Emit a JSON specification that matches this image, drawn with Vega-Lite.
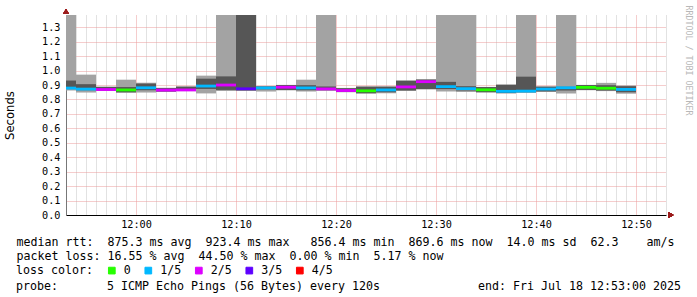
{
  "$schema": "https://vega.github.io/schema/vega-lite/v6.json",
  "width": 600,
  "height": 200,
  "autosize": {"type": "none"},
  "padding": {"left": 66, "top": 15, "right": 31, "bottom": 82},
  "background": "#ffffff",
  "config": {"view": {"stroke": null}},
  "title": {
    "text": "probe:\u00a0\u00a0\u00a0\u00a0\u00a0\u00a0\u00a05\u00a0ICMP\u00a0Echo\u00a0Pings\u00a0(56\u00a0Bytes)\u00a0every\u00a0120s\u00a0\u00a0\u00a0\u00a0\u00a0\u00a0\u00a0\u00a0\u00a0\u00a0\u00a0\u00a0\u00a0\u00a0end:\u00a0Fri\u00a0Jul\u00a018\u00a012:53:00\u00a02025",
    "orient": "bottom",
    "anchor": "start",
    "frame": "group",
    "dx": -50,
    "offset": 4,
    "font": "DejaVu Sans Mono",
    "fontSize": 11.63,
    "fontWeight": "normal",
    "color": "#000000"
  },
  "resolve": {"axis": {"y": "independent"}},
  "data": {
    "values": [
      {"t0": "2025-07-18T11:52:00", "t1": "2025-07-18T11:54:00", "lo": 0.862, "lo2": 0.872, "hi2": 0.931, "hi": 1.5, "med": 0.879, "loss": "1/5"},
      {"t0": "2025-07-18T11:54:00", "t1": "2025-07-18T11:56:00", "lo": 0.848, "lo2": 0.864, "hi2": 0.906, "hi": 0.972, "med": 0.872, "loss": "1/5"},
      {"t0": "2025-07-18T11:56:00", "t1": "2025-07-18T11:58:00", "lo": 0.860, "lo2": 0.862, "hi2": 0.887, "hi": 0.889, "med": 0.869, "loss": "2/5"},
      {"t0": "2025-07-18T11:58:00", "t1": "2025-07-18T12:00:00", "lo": 0.846, "lo2": 0.850, "hi2": 0.886, "hi": 0.937, "med": 0.866, "loss": "0"},
      {"t0": "2025-07-18T12:00:00", "t1": "2025-07-18T12:02:00", "lo": 0.848, "lo2": 0.864, "hi2": 0.910, "hi": 0.916, "med": 0.881, "loss": "1/5"},
      {"t0": "2025-07-18T12:02:00", "t1": "2025-07-18T12:04:00", "lo": 0.853, "lo2": 0.855, "hi2": 0.879, "hi": 0.881, "med": 0.865, "loss": "2/5"},
      {"t0": "2025-07-18T12:04:00", "t1": "2025-07-18T12:06:00", "lo": 0.858, "lo2": 0.860, "hi2": 0.889, "hi": 0.890, "med": 0.866, "loss": "2/5"},
      {"t0": "2025-07-18T12:06:00", "t1": "2025-07-18T12:08:00", "lo": 0.842, "lo2": 0.873, "hi2": 0.944, "hi": 0.965, "med": 0.893, "loss": "1/5"},
      {"t0": "2025-07-18T12:08:00", "t1": "2025-07-18T12:10:00", "lo": 0.858, "lo2": 0.866, "hi2": 0.960, "hi": 1.5, "med": 0.900, "loss": "2/5"},
      {"t0": "2025-07-18T12:10:00", "t1": "2025-07-18T12:12:00", "lo": 0.860, "lo2": 0.862, "hi2": 1.5, "hi": 1.5, "med": 0.874, "loss": "3/5"},
      {"t0": "2025-07-18T12:12:00", "t1": "2025-07-18T12:14:00", "lo": 0.855, "lo2": 0.870, "hi2": 0.890, "hi": 0.893, "med": 0.880, "loss": "1/5"},
      {"t0": "2025-07-18T12:14:00", "t1": "2025-07-18T12:16:00", "lo": 0.864, "lo2": 0.865, "hi2": 0.900, "hi": 0.901, "med": 0.885, "loss": "2/5"},
      {"t0": "2025-07-18T12:16:00", "t1": "2025-07-18T12:18:00", "lo": 0.855, "lo2": 0.864, "hi2": 0.899, "hi": 0.937, "med": 0.880, "loss": "1/5"},
      {"t0": "2025-07-18T12:18:00", "t1": "2025-07-18T12:20:00", "lo": 0.860, "lo2": 0.864, "hi2": 0.890, "hi": 1.5, "med": 0.873, "loss": "2/5"},
      {"t0": "2025-07-18T12:20:00", "t1": "2025-07-18T12:22:00", "lo": 0.850, "lo2": 0.852, "hi2": 0.878, "hi": 0.880, "med": 0.862, "loss": "2/5"},
      {"t0": "2025-07-18T12:22:00", "t1": "2025-07-18T12:24:00", "lo": 0.841, "lo2": 0.843, "hi2": 0.889, "hi": 0.890, "med": 0.860, "loss": "0"},
      {"t0": "2025-07-18T12:24:00", "t1": "2025-07-18T12:26:00", "lo": 0.843, "lo2": 0.850, "hi2": 0.889, "hi": 0.890, "med": 0.866, "loss": "1/5"},
      {"t0": "2025-07-18T12:26:00", "t1": "2025-07-18T12:28:00", "lo": 0.860, "lo2": 0.862, "hi2": 0.930, "hi": 0.931, "med": 0.887, "loss": "2/5"},
      {"t0": "2025-07-18T12:28:00", "t1": "2025-07-18T12:30:00", "lo": 0.870, "lo2": 0.872, "hi2": 0.938, "hi": 0.939, "med": 0.9234, "loss": "2/5"},
      {"t0": "2025-07-18T12:30:00", "t1": "2025-07-18T12:32:00", "lo": 0.856, "lo2": 0.872, "hi2": 0.922, "hi": 1.5, "med": 0.889, "loss": "1/5"},
      {"t0": "2025-07-18T12:32:00", "t1": "2025-07-18T12:34:00", "lo": 0.852, "lo2": 0.862, "hi2": 0.892, "hi": 1.5, "med": 0.875, "loss": "1/5"},
      {"t0": "2025-07-18T12:34:00", "t1": "2025-07-18T12:36:00", "lo": 0.849, "lo2": 0.850, "hi2": 0.886, "hi": 0.887, "med": 0.867, "loss": "0"},
      {"t0": "2025-07-18T12:36:00", "t1": "2025-07-18T12:38:00", "lo": 0.841, "lo2": 0.845, "hi2": 0.902, "hi": 0.903, "med": 0.8564, "loss": "1/5"},
      {"t0": "2025-07-18T12:38:00", "t1": "2025-07-18T12:40:00", "lo": 0.846, "lo2": 0.850, "hi2": 0.958, "hi": 1.5, "med": 0.858, "loss": "1/5"},
      {"t0": "2025-07-18T12:40:00", "t1": "2025-07-18T12:42:00", "lo": 0.852, "lo2": 0.856, "hi2": 0.888, "hi": 0.892, "med": 0.872, "loss": "1/5"},
      {"t0": "2025-07-18T12:42:00", "t1": "2025-07-18T12:44:00", "lo": 0.841, "lo2": 0.862, "hi2": 0.888, "hi": 1.5, "med": 0.881, "loss": "1/5"},
      {"t0": "2025-07-18T12:44:00", "t1": "2025-07-18T12:46:00", "lo": 0.864, "lo2": 0.866, "hi2": 0.900, "hi": 0.901, "med": 0.884, "loss": "0"},
      {"t0": "2025-07-18T12:46:00", "t1": "2025-07-18T12:48:00", "lo": 0.858, "lo2": 0.862, "hi2": 0.899, "hi": 0.915, "med": 0.878, "loss": "0"},
      {"t0": "2025-07-18T12:48:00", "t1": "2025-07-18T12:50:00", "lo": 0.840, "lo2": 0.850, "hi2": 0.892, "hi": 0.897, "med": 0.8696, "loss": "1/5"}
    ]
  },
  "layer": [
    {
      "mark": {"type": "point", "shape": "square", "filled": true, "size": 0, "stroke": "#000000", "strokeWidth": 1, "opacity": 1, "clip": true},
      "encoding": {
        "x": {"field": "t0", "type": "temporal", "scale": {"domain": [{"year": 2025, "month": 7, "date": 18, "hours": 11, "minutes": 53}, {"year": 2025, "month": 7, "date": 18, "hours": 12, "minutes": 53}]}},
        "y": {"field": "med", "type": "quantitative", "scale": {"domain": [0, 1.385], "nice": false, "zero": false}, "axis": null},
        "color": {
          "field": "loss", "type": "nominal",
          "scale": {"domain": ["0", "1/5", "2/5", "3/5", "4/5"], "range": ["#26ff00", "#00b8ff", "#dd00ff", "#5e00ff", "#ff0000"]},
          "legend": {
            "orient": "none",
            "legendX": -50,
            "legendY": 249.5,
            "direction": "horizontal",
            "title": "loss color:",
            "titleOrient": "left",
            "titleAnchor": "middle",
            "titleBaseline": "middle",
            "titlePadding": 13,
            "titleFont": "DejaVu Sans Mono",
            "titleFontSize": 11.63,
            "titleFontWeight": "normal",
            "titleColor": "#000000",
            "padding": 0,
            "symbolType": "square",
            "symbolSize": 45,
            "symbolStrokeColor": "#000000",
            "symbolStrokeWidth": 1,
            "symbolOpacity": 1,
            "labelFont": "DejaVu Sans Mono",
            "labelFontSize": 11.63,
            "labelColor": "#000000",
            "labelOffset": 6,
            "columnPadding": 11.5
          }
        }
      }
    },
    {
      "mark": {"type": "rect", "color": "#a3a3a3", "clip": true},
      "encoding": {
        "x": {
          "field": "t0", "type": "temporal",
          "scale": {"domain": [{"year": 2025, "month": 7, "date": 18, "hours": 11, "minutes": 53}, {"year": 2025, "month": 7, "date": 18, "hours": 12, "minutes": 53}]},
          "axis": {
            "title": [
              "median rtt:\u00a0\u00a0875.3\u00a0ms\u00a0avg\u00a0\u00a0923.4\u00a0ms\u00a0max\u00a0\u00a0\u00a0856.4\u00a0ms\u00a0min\u00a0\u00a0869.6\u00a0ms\u00a0now\u00a0\u00a014.0\u00a0ms\u00a0sd\u00a0\u00a062.3\u00a0\u00a0\u00a0\u00a0am/s",
              "packet loss:\u00a016.55\u00a0%\u00a0avg\u00a0\u00a044.50\u00a0%\u00a0max\u00a0\u00a00.00\u00a0%\u00a0min\u00a0\u00a05.17\u00a0%\u00a0now"
            ],
            "titleX": -50,
            "titleY": 30.5,
            "titleAlign": "left",
            "titleAnchor": "start",
            "titleBaseline": "alphabetic",
            "titleFont": "DejaVu Sans Mono",
            "titleFontSize": 11.63,
            "titleFontWeight": "normal",
            "titleColor": "#000000",
            "titleLineHeight": 14,
            "tickCount": 30,
            "labelExpr": "minutes(datum.value) % 10 === 0 ? timeFormat(datum.value, '%H:%M') : ''",
            "labelFont": "DejaVu Sans Mono",
            "labelFontSize": 10.2,
            "labelColor": "#000000",
            "labelPadding": 4,
            "labelFlush": false,
            "labelOverlap": false,
            "ticks": false,
            "grid": true,
            "gridColor": {"condition": {"test": "minutes(datum.value) % 10 === 0", "value": "#eb9a9a"}, "value": "#c4c4c4"},
            "gridDash": [1, 1],
            "gridWidth": 1,
            "domainColor": "#000000",
            "domainWidth": 1
          }
        },
        "x2": {"field": "t1"},
        "y": {
          "field": "lo", "type": "quantitative",
          "scale": {"domain": [0, 1.385], "nice": false, "zero": false},
          "axis": {
            "orient": "left",
            "title": "Seconds",
            "titleFont": "DejaVu Sans",
            "titleFontSize": 11.63,
            "titleFontWeight": "normal",
            "titleColor": "#000000",
            "titleX": -56,
            "titleY": 100,
            "titleAngle": 270,
            "titleAlign": "center",
            "titleBaseline": "middle",
            "values": [0, 0.1, 0.2, 0.3, 0.4, 0.5, 0.6, 0.7, 0.8, 0.9, 1.0, 1.1, 1.2, 1.3],
            "format": ".1f",
            "labelFont": "DejaVu Sans Mono",
            "labelFontSize": 10.2,
            "labelColor": "#000000",
            "labelPadding": 6,
            "labelOverlap": false,
            "labelFlush": false,
            "ticks": false,
            "grid": true,
            "gridColor": "#eb9a9a",
            "gridDash": [1, 1],
            "gridWidth": 1,
            "domainColor": "#777777",
            "domainWidth": 1
          }
        },
        "y2": {"field": "hi"}
      }
    },
    {
      "mark": {"type": "rect", "color": "#565656", "clip": true},
      "encoding": {
        "x": {"field": "t0", "type": "temporal", "scale": {"domain": [{"year": 2025, "month": 7, "date": 18, "hours": 11, "minutes": 53}, {"year": 2025, "month": 7, "date": 18, "hours": 12, "minutes": 53}]}},
        "x2": {"field": "t1"},
        "y": {
          "field": "lo2", "type": "quantitative",
          "scale": {"domain": [0, 1.385], "nice": false, "zero": false},
          "axis": {
            "orient": "right",
            "title": "RRDTOOL / TOBI OETIKER",
            "titleFont": "DejaVu Sans Mono",
            "titleFontSize": 8.3,
            "titleFontWeight": "normal",
            "titleColor": "#b8b8b8",
            "titleAngle": 90,
            "titleX": 21.5,
            "titleY": -10,
            "titleAlign": "left",
            "titleBaseline": "middle",
            "labels": false,
            "ticks": false,
            "domain": false,
            "grid": false
          }
        },
        "y2": {"field": "hi2"}
      }
    },
    {
      "mark": {"type": "rule", "strokeWidth": 2.8, "strokeCap": "butt", "clip": true},
      "encoding": {
        "x": {"field": "t0", "type": "temporal", "scale": {"domain": [{"year": 2025, "month": 7, "date": 18, "hours": 11, "minutes": 53}, {"year": 2025, "month": 7, "date": 18, "hours": 12, "minutes": 53}]}},
        "x2": {"field": "t1"},
        "y": {"field": "med", "type": "quantitative", "scale": {"domain": [0, 1.385], "nice": false, "zero": false}, "axis": null},
        "color": {
          "field": "loss", "type": "nominal",
          "scale": {"domain": ["0", "1/5", "2/5", "3/5", "4/5"], "range": ["#26ff00", "#00b8ff", "#dd00ff", "#5e00ff", "#ff0000"]}
        }
      }
    },
    {
      "mark": {"type": "point", "shape": "triangle-up", "filled": true, "color": "#9b1c1c", "size": 28, "opacity": 1},
      "encoding": {
        "x": {"datum": {"year": 2025, "month": 7, "date": 18, "hours": 11, "minutes": 53}, "type": "temporal"},
        "y": {"datum": 1.41, "type": "quantitative", "axis": null}
      }
    },
    {
      "mark": {"type": "point", "shape": "triangle-right", "filled": true, "color": "#9b1c1c", "size": 28, "opacity": 1},
      "encoding": {
        "x": {"datum": {"year": 2025, "month": 7, "date": 18, "hours": 12, "minutes": 53, "seconds": 30}, "type": "temporal"},
        "y": {"datum": 0, "type": "quantitative", "axis": null}
      }
    }
  ]
}
